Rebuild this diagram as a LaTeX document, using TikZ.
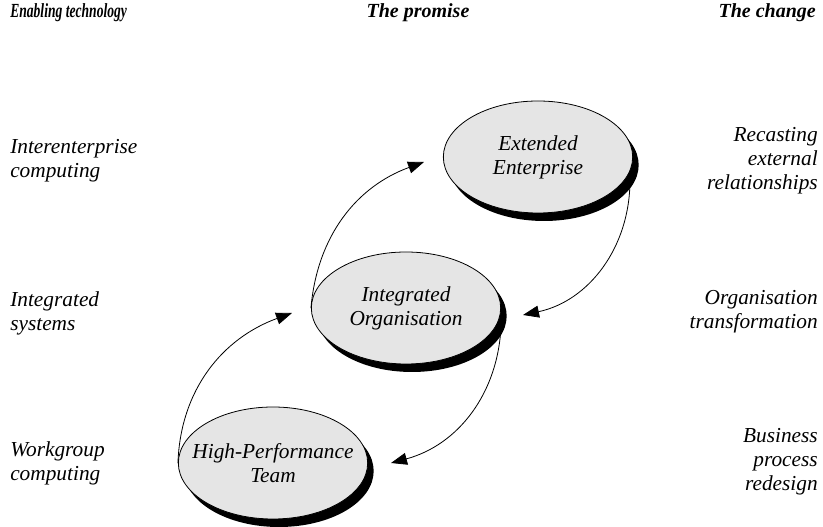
\documentclass[tikz,border=0pt]{standalone}
\usepackage{fontspec}
\setmainfont{Liberation Serif}
\usepackage{tikz}
\usetikzlibrary{shapes,positioning,shadows,arrows.meta}
\newcommand{\bodyfont}{\itshape\fontsize{16}{18}\selectfont}
\tikzset{
  stage/.style={ellipse, draw, line width=0.6pt, fill=black!10, minimum width=142pt,
    minimum height=84pt, inner sep=0pt,
    drop shadow={shadow xshift=4.5pt, shadow yshift=-6pt, fill=black, opacity=1}},
  stagetext/.style={align=center, inner sep=0pt, font=\bodyfont},
  head/.style={inner sep=0pt, font=\bfseries\itshape\fontsize{15}{18}\selectfont},
  lefttext/.style={anchor=west, align=left, inner sep=0pt, font=\bodyfont},
  righttext/.style={anchor=east, align=right, inner sep=0pt, font=\bodyfont},
  flow/.style={-{Triangle[length=12pt,width=9pt]}, line width=0.6pt}
}

\begin{document}
\begin{tikzpicture}[x=0.75pt, y=0.75pt]
          \useasboundingbox (0,0) rectangle (823,527);
          % column heads
          \node [head, anchor=west] (Htech) at (10, 514) {\scalebox{0.68}[1]{Enabling technology}};
          \node [head] (Hprom) at (418, 514) {The promise};
          \node [head, anchor=east] (Hchg) at (816, 514) {The change};
          % left and right columns
          \node [lefttext] (Linter) at (10, 366) {Interenterprise\\computing};
          \node [lefttext] (Lsys) at (10, 214) {Integrated\\systems};
          \node [lefttext] (Lwork) at (10, 64) {Workgroup\\computing};
          \node [righttext] (Rext) at (818, 366) {Recasting\\external\\relationships};
          \node [righttext] (Rorg) at (818, 215) {Organisation\\transformation};
          \node [righttext] (Rbus) at (818, 65) {Business\\process\\redesign};
          % the promise
          \node [stage] (EE) at (538, 370) {};
          \node [stage] (IO) at (406, 219) {};
          \node [stage] (HPT) at (273, 64) {};
          \node [stagetext] (EEtext) at (EE) {Extended\\Enterprise};
          \node [stagetext] (IOtext) at (IO) {Integrated\\Organisation};
          \node [stagetext] (HPTtext) at (HPT) {High-Performance\\Team};
          \coordinate (T1) at (292, 214);
          \coordinate (T2) at (424, 365);
          \coordinate (T3) at (523, 212);
          \coordinate (T4) at (391, 64);
          \draw [flow] (HPT.west) to [out = 88, in = 200] (T1);
          \draw [flow] (IO.west) to [out = 85, in = 200] (T2);
          \draw [flow] ([xshift=4pt]EE.-15) to [out = -90, in = 12] (T3);
          \draw [flow] ([xshift=3pt]IO.-10) to [out = -92, in = 15] (T4);
  \end{tikzpicture}
\end{document}
